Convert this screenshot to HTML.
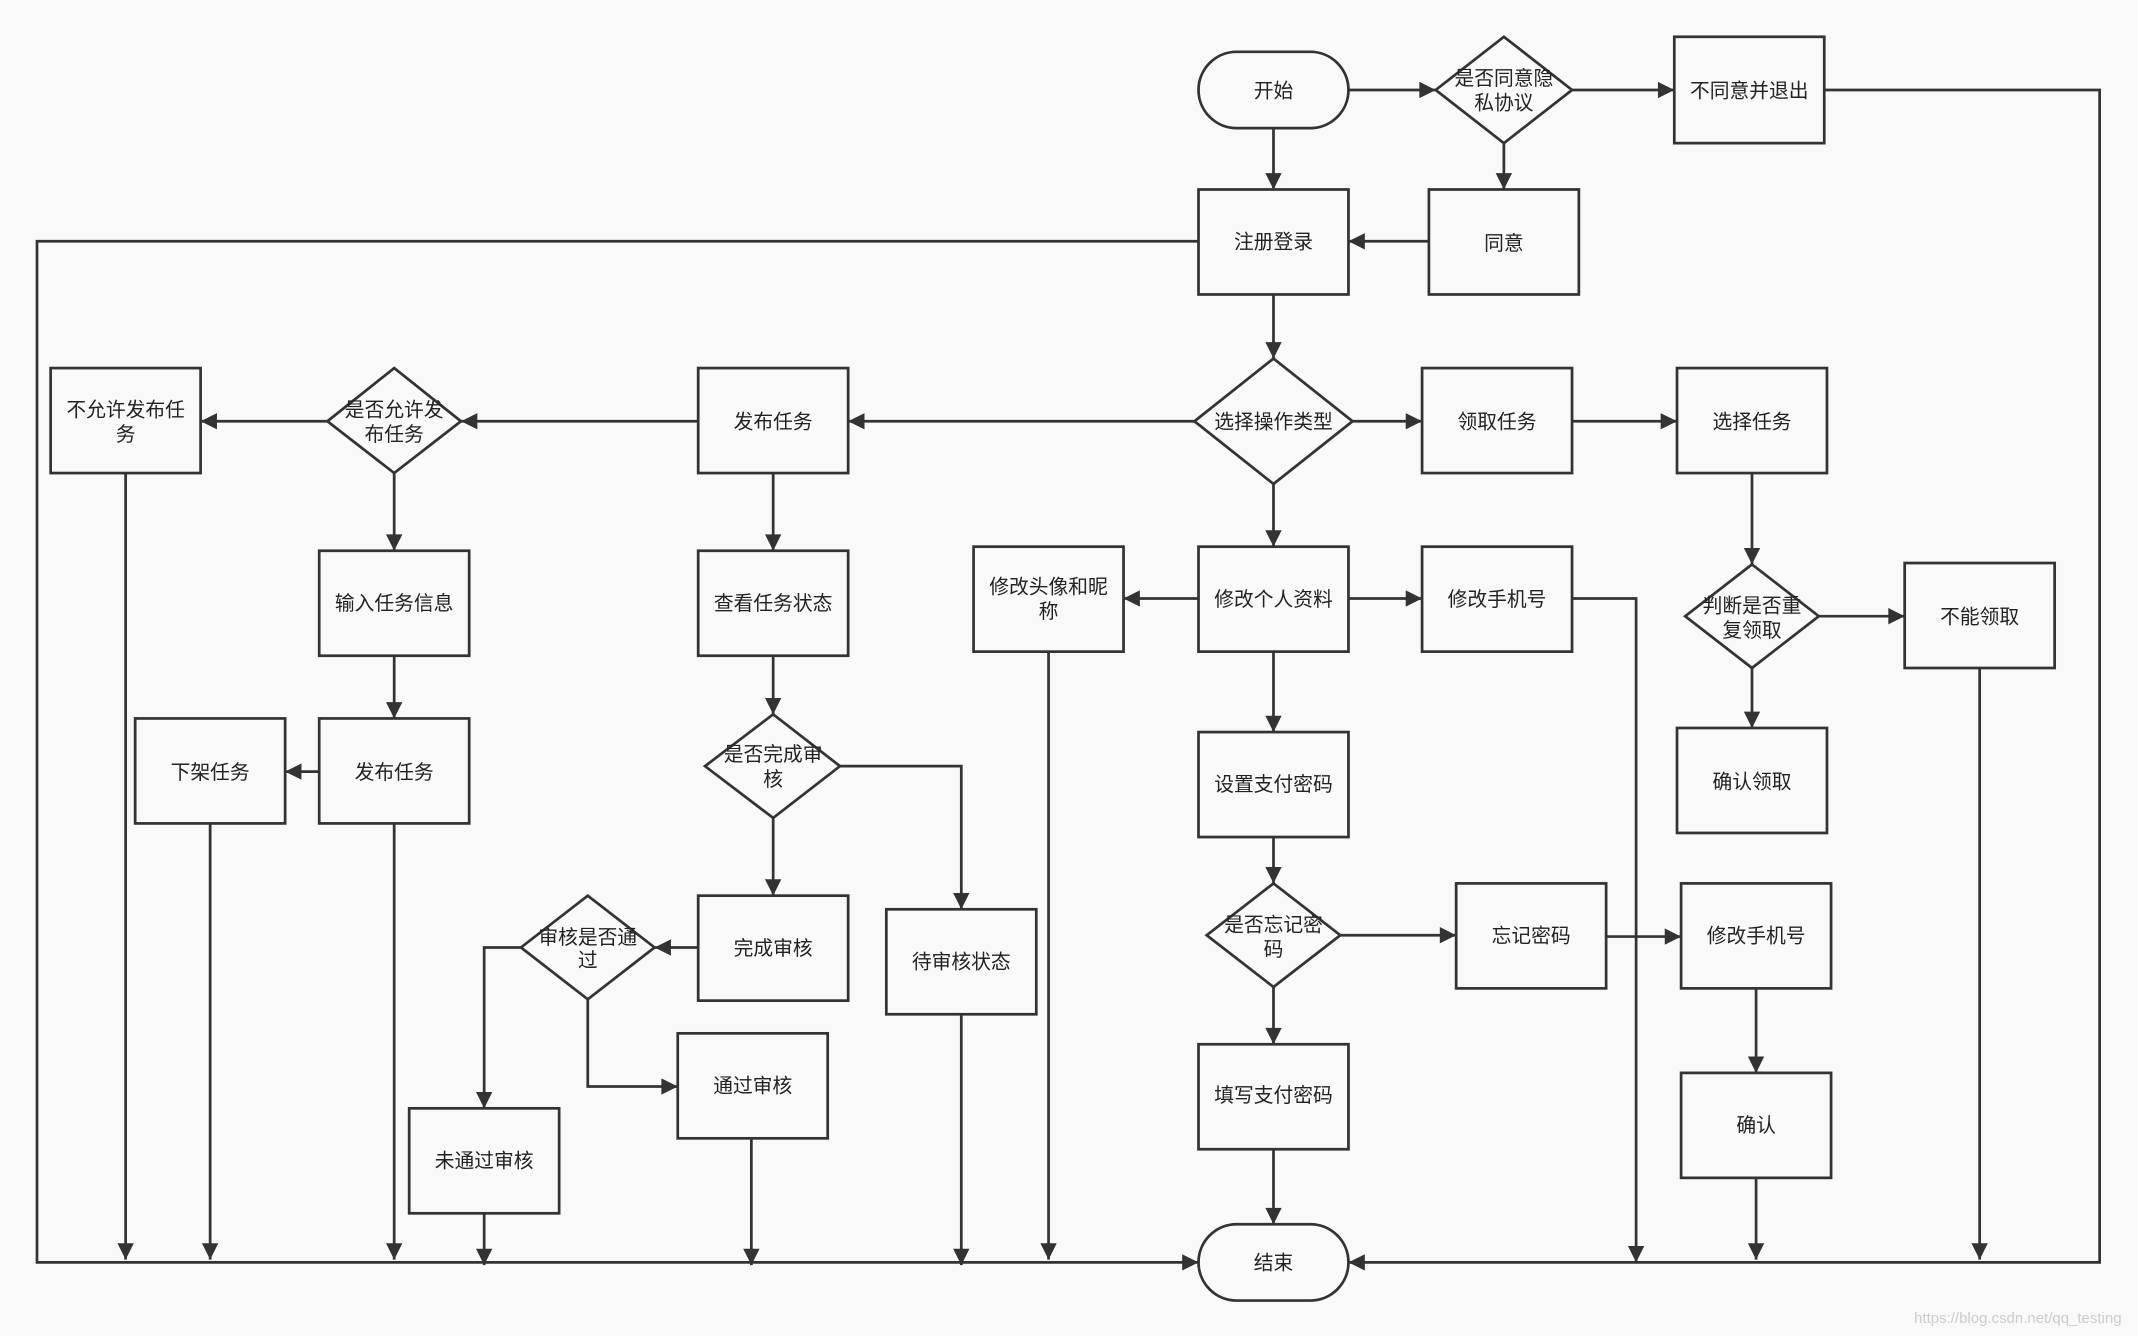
<!DOCTYPE html>
<html><head><meta charset="utf-8"><style>
html,body{margin:0;padding:0;background:#f9f9f9;}
svg{display:block;}
text{font-family:"Liberation Sans","Noto Sans CJK SC",sans-serif;font-size:14.5px;fill:#222;text-anchor:middle;dominant-baseline:central;}
</style></head><body>
<svg width="2138" height="1336" viewBox="0 0 1568 980" xmlns="http://www.w3.org/2000/svg">
<defs><marker id="a" viewBox="0 0 10 10" refX="10" refY="5" markerWidth="8" markerHeight="8" markerUnits="userSpaceOnUse" orient="auto"><path d="M0,0 L10,5 L0,10 z" fill="#333"/></marker>
<marker id="b" viewBox="0 0 10 10" refX="10" refY="5" markerWidth="16" markerHeight="12" markerUnits="userSpaceOnUse" orient="auto"><path d="M0,0 L10,5 L0,10 z" fill="#333"/></marker></defs>
<rect width="1568" height="980" fill="#f9f9f9"/>
<g fill="none" stroke="#333" stroke-width="2" marker-end="url(#b)">
<path d="M989,66H1053"/><path d="M1153,66H1228"/><path d="M1103,105V139"/><path d="M1048,177H989"/>
<path d="M934,94V139"/><path d="M934,216V263"/><path d="M992,309H1043"/><path d="M1153,309H1230"/>
<path d="M1285,347V414"/><path d="M1334,452H1397"/><path d="M1285,490V534"/>
<path d="M876,309H622"/><path d="M512,309H338"/><path d="M240,309H147"/><path d="M289,347V404"/>
<path d="M289,481V527"/><path d="M234,566H209"/><path d="M567,347V404"/><path d="M567,481V524"/>
<path d="M567,600V657"/><path d="M616,562H705V667"/><path d="M512,695H480"/><path d="M382,695H355V813"/>
<path d="M431,733V797H497"/><path d="M934,355V401"/><path d="M879,439H824"/><path d="M989,439H1043"/>
<path d="M934,478V537"/><path d="M934,614V648"/><path d="M983,686H1068"/><path d="M1178,687H1233"/>
<path d="M1288,725V787"/><path d="M934,724V766"/><path d="M934,843V898"/>
<path d="M879,177H27V926H879"/><path d="M1338,66H1540V926H989"/>
<path d="M92,347V924"/><path d="M154,604V924"/><path d="M289,604V924"/><path d="M355,890V928"/>
<path d="M551,835V928"/><path d="M705,744V928"/><path d="M769,478V924"/><path d="M1153,439H1200V926"/>
<path d="M1288,864V924"/><path d="M1452,490V924"/>
</g>
<g fill="#f9f9f9" stroke="#333" stroke-width="2">
<rect x="879" y="38" width="110" height="56" rx="28"/><rect x="879" y="898" width="110" height="56" rx="28"/>
<rect x="1228" y="27" width="110" height="78"/><rect x="1048" y="139" width="110" height="77"/>
<rect x="879" y="139" width="110" height="77"/><rect x="1043" y="270" width="110" height="77"/>
<rect x="1230" y="270" width="110" height="77"/><rect x="512" y="270" width="110" height="77"/>
<rect x="37" y="270" width="110" height="77"/><rect x="234" y="404" width="110" height="77"/>
<rect x="234" y="527" width="110" height="77"/><rect x="99" y="527" width="110" height="77"/>
<rect x="512" y="404" width="110" height="77"/><rect x="512" y="657" width="110" height="77"/>
<rect x="300" y="813" width="110" height="77"/><rect x="497" y="758" width="110" height="77"/>
<rect x="650" y="667" width="110" height="77"/><rect x="714" y="401" width="110" height="77"/>
<rect x="879" y="401" width="110" height="77"/><rect x="1043" y="401" width="110" height="77"/>
<rect x="879" y="537" width="110" height="77"/><rect x="1068" y="648" width="110" height="77"/>
<rect x="1233" y="648" width="110" height="77"/><rect x="1233" y="787" width="110" height="77"/>
<rect x="879" y="766" width="110" height="77"/><rect x="1397" y="413" width="110" height="77"/>
<rect x="1230" y="534" width="110" height="77"/>
<polygon points="1103,27 1153,66 1103,105 1053,66"/>
<polygon points="934,263 992,309 934,355 876,309"/>
<polygon points="289,270 338,309 289,347 240,309"/>
<polygon points="567,524 616,562 567,600 517,562"/>
<polygon points="431,657 480,695 431,733 382,695"/>
<polygon points="934,648 983,686 934,724 885,686"/>
<polygon points="1285,414 1334,452 1285,490 1236,452"/>
</g>
<text x="934" y="67">开始</text><text x="934" y="927">结束</text>
<text x="1103" y="58">是否同意隐</text><text x="1103" y="76">私协议</text>
<text x="1283" y="67">不同意并退出</text><text x="1103" y="179">同意</text><text x="934" y="178">注册登录</text>
<text x="934" y="310">选择操作类型</text><text x="1098" y="310">领取任务</text><text x="1285" y="310">选择任务</text>
<text x="567" y="310">发布任务</text><text x="289" y="301">是否允许发</text><text x="289" y="319">布任务</text>
<text x="92" y="301">不允许发布任</text><text x="92" y="319">务</text>
<text x="289" y="443">输入任务信息</text><text x="289" y="567">发布任务</text><text x="154" y="567">下架任务</text>
<text x="567" y="443">查看任务状态</text><text x="567" y="554">是否完成审</text><text x="567" y="572">核</text>
<text x="567" y="696">完成审核</text><text x="431" y="688">审核是否通</text><text x="431" y="705">过</text>
<text x="355" y="852">未通过审核</text><text x="552" y="797">通过审核</text><text x="705" y="706">待审核状态</text>
<text x="769" y="431">修改头像和昵</text><text x="769" y="449">称</text>
<text x="934" y="440">修改个人资料</text><text x="1098" y="440">修改手机号</text>
<text x="934" y="576">设置支付密码</text><text x="934" y="679">是否忘记密</text><text x="934" y="697">码</text>
<text x="1123" y="687">忘记密码</text><text x="1288" y="687">修改手机号</text><text x="1288" y="826">确认</text>
<text x="934" y="804">填写支付密码</text>
<text x="1285" y="445">判断是否重</text><text x="1285" y="463">复领取</text>
<text x="1452" y="453">不能领取</text><text x="1285" y="574">确认领取</text>
<text x="1480" y="967" style="font-size:11px;fill:#ccc">https://blog.csdn.net/qq_testing</text>
</svg>
</body></html>
